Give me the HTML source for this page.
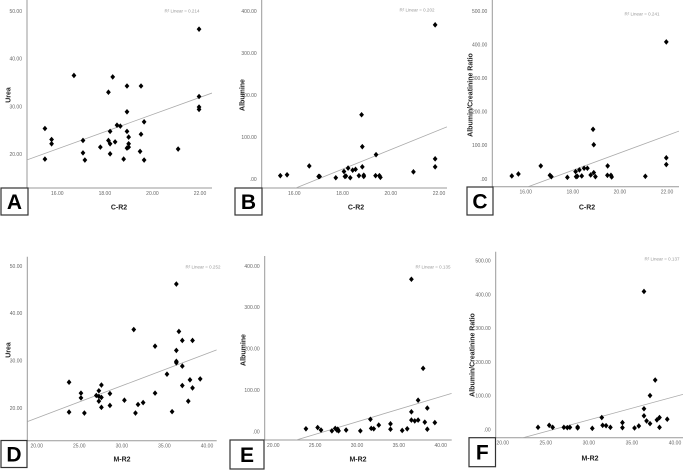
<!DOCTYPE html>
<html><head><meta charset="utf-8">
<style>
html,body{margin:0;padding:0;background:#fff;}
svg{display:block;font-family:"Liberation Sans",sans-serif;}
</style></head>
<body>
<svg id="chart" width="685" height="471" viewBox="0 0 685 471"></svg>
<script>
// ---- Data ----
const aX=[15.48,15.48,15.76,15.76,16.70,17.08,17.08,17.16,17.81,18.15,18.15,18.22,18.22,18.22,18.33,18.43,18.51,18.65,18.79,18.93,18.93,18.93,18.93,19.00,19.00,19.00,19.52,19.52,19.48,19.65,19.65,21.08,21.96,21.96,21.96,21.96];
const aY=[19.0,25.4,23.1,22.2,36.5,22.9,20.3,18.8,21.5,33.0,22.9,24.8,22.2,20.1,36.2,22.6,26.1,25.9,19.0,34.3,28.9,24.8,21.3,23.6,22.2,21.5,34.3,24.2,20.6,26.8,18.8,21.1,46.2,32.1,29.9,29.4];
const bX=[15.42,15.70,16.62,17.01,17.05,17.72,18.06,18.10,18.14,18.23,18.32,18.42,18.54,18.68,18.79,18.82,18.82,18.88,18.88,19.39,19.37,19.53,19.57,20.94,21.84,21.84,21.84];
const bY=[8,10,31,6,6,3,18,6,7,26,3,21,23,8,153,77,29,9,6,58,8,8,4,17,367,48,29];
const cX=[15.41,15.69,16.64,17.03,17.09,17.77,18.12,18.14,18.19,18.28,18.38,18.48,18.62,18.76,18.86,18.89,18.89,18.96,19.48,19.47,19.62,19.65,21.08,21.97,21.97,21.97];
const cY=[9,15,39,11,7,5,22,7,8,27,9,32,32,12,148,102,19,7,39,11,11,6,8,408,63,43];
const dX=[23.8,23.8,25.2,25.2,25.6,27.0,27.3,27.3,27.3,27.6,27.6,27.6,28.6,28.6,30.3,31.4,31.6,31.9,32.5,33.9,33.9,35.3,35.9,36.4,36.4,36.4,36.4,36.7,37.1,37.1,37.1,37.8,38.0,38.3,38.3,39.2];
const dY=[25.5,19.2,23.2,22.2,19.0,22.7,23.7,22.5,21.5,24.9,22.3,20.2,23.1,20.6,21.7,36.6,19.0,20.8,21.2,33.1,23.2,27.2,19.3,46.2,32.2,29.9,29.6,36.2,34.3,28.9,24.8,21.5,26.0,34.3,24.3,26.2];
const eX=[23.9,25.3,25.7,27.0,27.4,27.6,27.7,27.8,28.7,30.4,31.6,31.7,32.0,32.6,34.0,34.0,35.4,36.0,36.5,36.5,36.5,36.9,37.3,37.3,37.9,38.1,38.4,38.4,39.3];
const eY=[7,10,4,2,8,4,6,2,4,2,30,8,7,16,19,6,3,7,368,48,28,26,76,28,153,23,57,6,22];
const fX=[24.1,25.4,25.8,27.1,27.5,27.8,28.7,28.7,30.4,31.5,31.6,32.0,32.5,33.9,33.9,35.3,35.8,36.4,36.4,36.4,36.7,37.1,37.1,37.7,37.9,38.2,38.2,39.1];
const fY=[7,13,7,7,6,7,8,5,4,36,13,12,7,21,6,5,11,409,62,41,26,101,18,147,29,36,7,31];
// fitted line coefficients as drawn in the figure (A..F)
const fitSlope=[1.80,23.23,25.85,0.680,6.06,6.915];
const fitIntercept=[-7.68,-394.6,-439.3,4.34,-157.9,-178.5];
const crTicks=[16,18,20,22];
const crTickLabels=["16.00","18.00","20.00","22.00"];
const mrTicks=[20,25,30,35,40];
const mrTickLabels=["20.00","25.00","30.00","35.00","40.00"];
const ureaTicks=[20,30,40,50];
const ureaTickLabels=["20.00","30.00","40.00","50.00"];
const albTicks=[0,100,200,300,400];
const albTickLabels=[".00","100.00","200.00","300.00","400.00"];
const acrTicks=[0,100,200,300,400,500];
const acrTickLabels=[".00","100.00","200.00","300.00","400.00","500.00"];
const r2Labels=["R² Linear = 0.214","R² Linear = 0.202","R² Linear = 0.241","R² Linear = 0.252","R² Linear = 0.135","R² Linear = 0.137"];

// ---- layout ----
const panels=[
 {id:"a",letter:"A",xs:aX,ys:aY,xt:crTicks,xl:crTickLabels,yt:ureaTicks,yl:ureaTickLabels,ylab:"Urea",xlab:"C-R2",
  left:27,right:212,top:0,bottom:188,xv:[16,22],xp:[57.3,200],yv:[20,50],yp:[154.3,11],
  box:[1,188,27,27],ylabX:8,ylabY:95,xlabX:119,xlabY:207,r2X:182,r2Y:11},
 {id:"b",letter:"B",xs:bX,ys:bY,xt:crTicks,xl:crTickLabels,yt:albTicks,yl:albTickLabels,ylab:"Albumine",xlab:"C-R2",
  left:261.7,right:447,top:0,bottom:188,xv:[16,22],xp:[294.3,439],yv:[0,400],yp:[179,11],
  box:[235,188,27,27],ylabX:242,ylabY:95,xlabX:356,xlabY:207,r2X:417,r2Y:10},
 {id:"c",letter:"C",xs:cX,ys:cY,xt:crTicks,xl:crTickLabels,yt:acrTicks,yl:acrTickLabels,ylab:"Albumin/Creatinine Ratio",xlab:"C-R2",
  left:492.3,right:679,top:0,bottom:186.7,xv:[16,22],xp:[525.7,667],yv:[0,500],yp:[179,11],
  box:[467,187,26,28],ylabX:470,ylabY:95,xlabX:587,xlabY:207,r2X:642,r2Y:14},
 {id:"d",letter:"D",xs:dX,ys:dY,xt:mrTicks,xl:mrTickLabels,yt:ureaTicks,yl:ureaTickLabels,ylab:"Urea",xlab:"M-R2",
  left:27.3,right:216.7,top:256.7,bottom:440.7,xv:[20,40],xp:[36.7,207],yv:[20,50],yp:[408.3,266],
  box:[1,440.5,26,27],ylabX:8,ylabY:350,xlabX:122,xlabY:459,r2X:203,r2Y:267},
 {id:"e",letter:"E",xs:eX,ys:eY,xt:mrTicks,xl:mrTickLabels,yt:albTicks,yl:albTickLabels,ylab:"Albumine",xlab:"M-R2",
  left:264.7,right:451.7,top:256,bottom:440,xv:[20,40],xp:[273.3,440.7],yv:[0,400],yp:[431.7,266],
  box:[230,440,34,29],ylabX:243,ylabY:350,xlabX:358,xlabY:459,r2X:433,r2Y:267},
 {id:"f",letter:"F",xs:fX,ys:fY,xt:mrTicks,xl:mrTickLabels,yt:acrTicks,yl:acrTickLabels,ylab:"Albumin/Creatinine Ratio",xlab:"M-R2",
  left:495.7,right:683,top:251.7,bottom:437.7,xv:[20,40],xp:[502.7,675],yv:[0,500],yp:[429.7,260.7],
  box:[469,437.7,26.5,29],ylabX:472,ylabY:355,xlabX:590,xlabY:458,r2X:662,r2Y:259}
];

const NS="http://www.w3.org/2000/svg";
const svg=document.getElementById("chart");
function mk(tag,attrs,parent){const e=document.createElementNS(NS,tag);for(const k in attrs)e.setAttribute(k,attrs[k]);(parent||svg).appendChild(e);return e;}
function lin(v0,v1,p0,p1){return v=>p0+(v-v0)*(p1-p0)/(v1-v0);}

panels.forEach((p,i)=>{
  const g=mk("g",{});
  
  
  const sx=lin(p.xv[0],p.xv[1],p.xp[0],p.xp[1]);
  const sy=lin(p.yv[0],p.yv[1],p.yp[0],p.yp[1]);
  const cp=mk("clipPath",{id:"clip"+p.id},g);
  mk("rect",{x:p.left,y:p.top,width:p.right-p.left,height:p.bottom-p.top},cp);
  const ya=mk("line",{x1:p.left,y1:p.top,x2:p.left,y2:p.bottom,stroke:"#999","stroke-width":1},g);
  
  
  const xa=mk("line",{x1:p.left,y1:p.bottom,x2:p.right,y2:p.bottom,stroke:"#999","stroke-width":1},g);
  
  
  p.yt.forEach((t,j)=>{
    const tx=mk("text",{x:p.left-5,y:sy(t)+1.8,"font-size":5,fill:"#666","text-anchor":"end"},g);
    tx.textContent=p.yl[j];
    
    
  });
  p.xt.forEach((t,j)=>{
    const tx=mk("text",{x:sx(t),y:p.bottom+7,"font-size":5,fill:"#666","text-anchor":"middle"},g);
    tx.textContent=p.xl[j];
    
    
  });
  const b=fitSlope[i],a=fitIntercept[i];
  const vL=p.xv[0]+(p.left-p.xp[0])*(p.xv[1]-p.xv[0])/(p.xp[1]-p.xp[0]);
  const vR=p.xv[0]+(p.right-p.xp[0])*(p.xv[1]-p.xv[0])/(p.xp[1]-p.xp[0]);
  const fl=mk("line",{x1:sx(vL),y1:sy(a+b*vL),x2:sx(vR),y2:sy(a+b*vR),stroke:"#aaa","stroke-width":0.8,"clip-path":"url(#clip"+p.id+")"},g);
  
  
  const n=p.xs.length;
  for(let k=0;k<n;k++){
    const cx=sx(p.xs[k]),cy=sy(p.ys[k]),r=2.8;
    const pt=mk("polygon",{points:`${cx},${cy-r} ${cx+r*0.85},${cy} ${cx},${cy+r} ${cx-r*0.85},${cy}`,fill:"#000"},g);
    
    
  }
  const yl=mk("text",{x:0,y:0,"font-size":7,"font-weight":"bold",fill:"#222","text-anchor":"middle",transform:`translate(${p.ylabX+2.5},${p.ylabY}) rotate(-90)`},g);
  yl.textContent=p.ylab;
  
  
  const xl=mk("text",{x:p.xlabX,y:p.xlabY+2.5,"font-size":7,"font-weight":"bold",fill:"#222","text-anchor":"middle"},g);
  xl.textContent=p.xlab;
  
  
  const r2=mk("text",{x:p.r2X,y:p.r2Y+1.5,"font-size":4.5,fill:"#999","text-anchor":"middle"},g);
  r2.textContent=r2Labels[i];
  
  
  const bx=mk("rect",{x:p.box[0],y:p.box[1],width:p.box[2],height:p.box[3],fill:"#fff",stroke:"#333","stroke-width":1.2},g);
  
  
  const lt=mk("text",{x:p.box[0]+p.box[2]/2,y:p.box[1]+p.box[3]/2+7.5,"font-size":21,"font-weight":"bold",fill:"#000","text-anchor":"middle"},g);
  lt.textContent=p.letter;
  
  
});
</script>
</body></html>
